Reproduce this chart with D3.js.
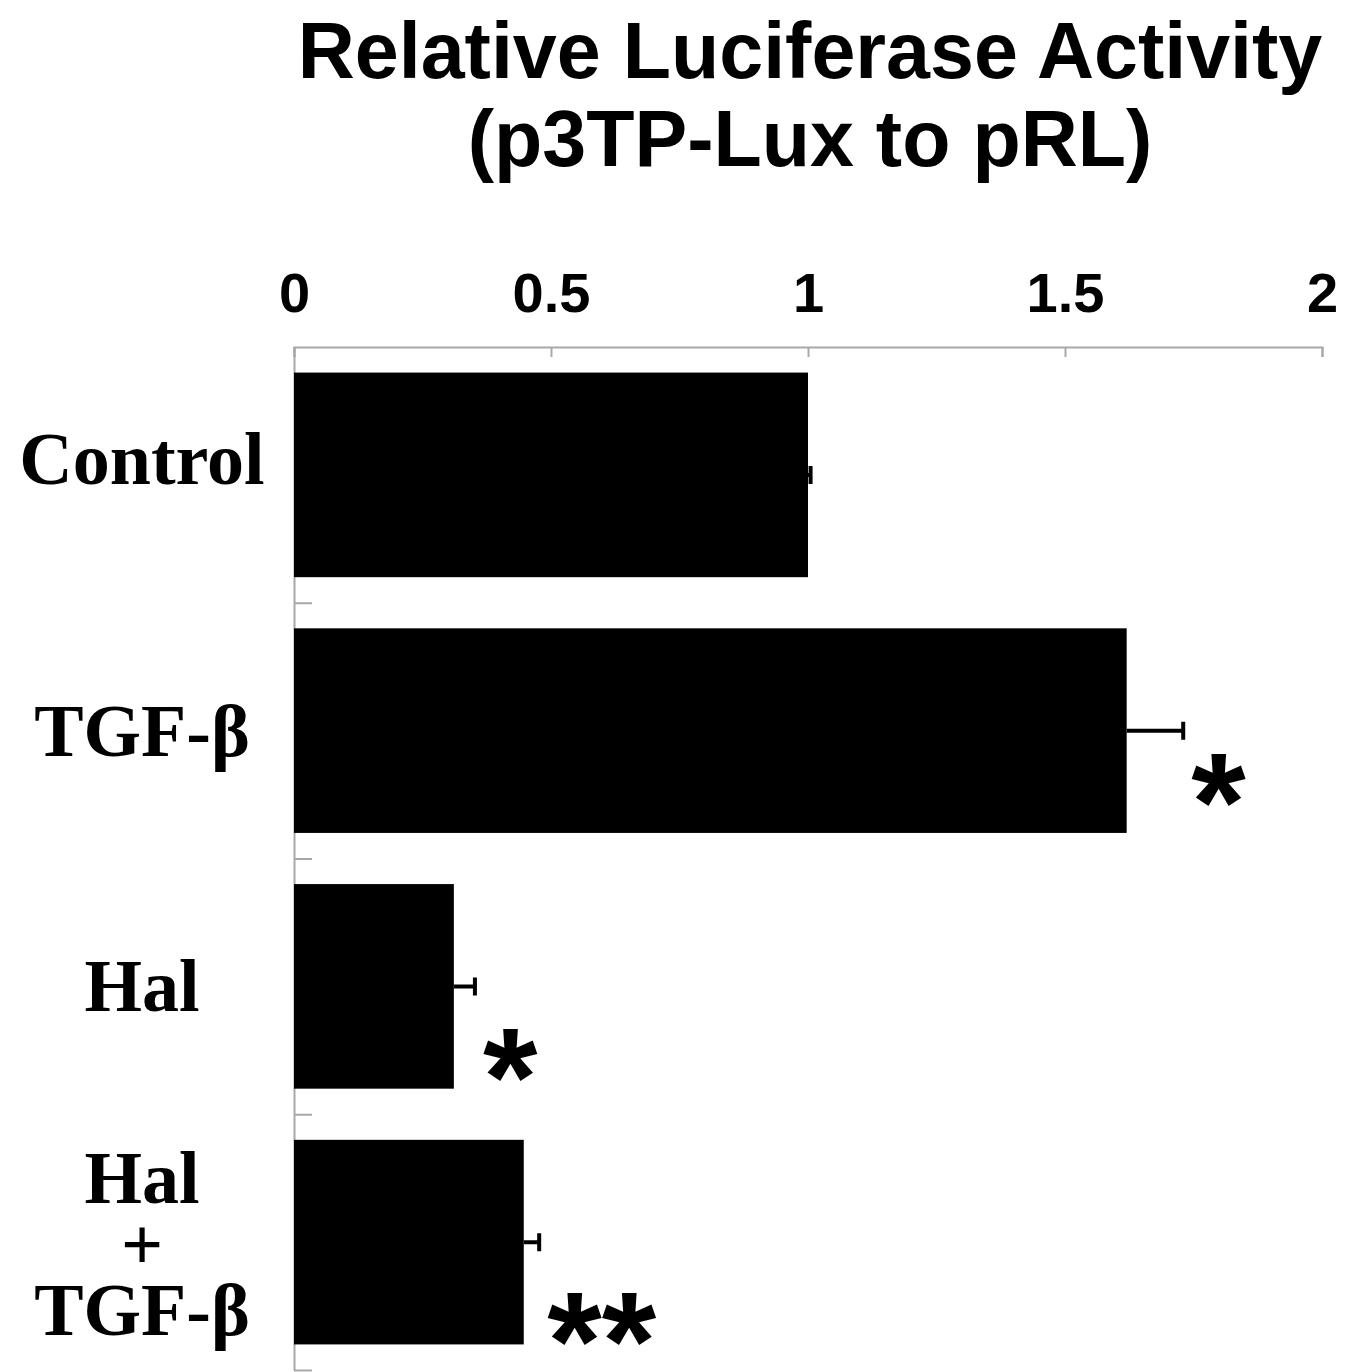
<!DOCTYPE html>
<html>
<head>
<meta charset="utf-8">
<script src="https://cdn.jsdelivr.net/npm/d3@7"></script>
<style>
	body { margin: 0; background: #fff; }
	.axis path, .axis line { stroke: #a8a8a8; stroke-width: 2; }
	.axis text { font-family: "Liberation Sans", Arial, sans-serif; font-weight: bold; font-size: 56px; fill: #000; }
	.cat { font-family: "Liberation Serif", "Times New Roman", serif; font-weight: bold; font-size: 74px; }
	.title { font-family: "Liberation Sans", Arial, sans-serif; font-weight: bold; font-size: 79px; }
	.star { font-family: "Liberation Sans", Arial, sans-serif; font-weight: bold; font-size: 140px; }
</style>
</head>
<body>
<svg></svg>
<script>
const categories = [["Control"], ["TGF-β"], ["Hal"], ["Hal", "+", "TGF-β"]];
const values = [1.0, 1.62, 0.311, 0.447];
const errors = [0.005, 0.11, 0.041, 0.03];
const marks = ["", "*", "*", "**"];
const xTicks = [0, 0.5, 1, 1.5, 2];
const titleLines = ["Relative Luciferase Activity", "(p3TP-Lux to pRL)"];

// small hand layout tweaks (pixels) for labels and significance marks
const labelShift = [-16, 0, 0, 0];
const starShift = [0, 25, 45, 53];

const svg = d3.select("svg");
svg.attr("width", 1356).attr("height", 1372);

const xScale = d3.scaleLinear().domain([0, 2]).range([294, 1322]);
const yScale = d3
	.scaleBand()
	.domain(d3.range(categories.length))
	.range([347, 1370])
	.paddingInner(0.2)
	.paddingOuter(0.1);
const edgeScale = d3.scaleLinear().domain([0, categories.length]).range([347, 1370]);

// title
svg
	.selectAll("text.title")
	.data(titleLines)
	.enter()
	.append("text")
	.attr("class", "title")
	.attr("x", 810)
	.attr("y", (_, i) => 78 + i * 88)
	.attr("text-anchor", "middle")
	.text((d) => d);

const xAxis = d3
	.axisTop(xScale)
	.tickValues(xTicks)
	.tickFormat((d) => d)
	.tickSizeInner(-10)
	.tickSizeOuter(-10)
	.tickPadding(35);
svg.append("g").attr("class", "axis").attr("transform", "translate(0, 347)").call(xAxis);

const yAxis = d3
	.axisLeft(edgeScale)
	.tickValues(d3.range(1, categories.length + 1))
	.tickFormat("")
	.tickSizeInner(-18)
	.tickSizeOuter(0);
svg.append("g").attr("class", "axis").attr("transform", "translate(294, 0)").call(yAxis);

const rows = svg
	.selectAll("g.row")
	.data(values)
	.enter()
	.append("g")
	.attr("class", "row");

rows
	.append("rect")
	.attr("x", xScale(0))
	.attr("y", (_, i) => yScale(i))
	.attr("width", (d) => xScale(d) - xScale(0))
	.attr("height", yScale.bandwidth())
	.attr("fill", "#000");

// error bars
rows
	.append("path")
	.attr("d", (d, i) => {
		const cy = yScale(i) + yScale.bandwidth() / 2;
		const x1 = xScale(d + errors[i]);
		return `M${xScale(d)},${cy}H${x1}M${x1},${cy - 9}V${cy + 9}`;
	})
	.attr("stroke", "#000")
	.attr("stroke-width", 4)
	.attr("fill", "none");

rows
	.append("text")
	.attr("class", "star")
	.attr("x", (d, i) => xScale(d + errors[i]) + 8)
	.attr("y", (_, i) => yScale(i) + yScale.bandwidth() / 2 + 94 + starShift[i])
	.text((_, i) => marks[i]);

// category labels
const labels = svg
	.selectAll("text.cat")
	.data(categories)
	.enter()
	.append("text")
	.attr("class", "cat")
	.attr("text-anchor", "middle")
	.attr("x", 140)
	.attr("y", (d, i) => yScale(i) + yScale.bandwidth() / 2 + 25 + labelShift[i] - (d.length > 1 ? 64 : 0));
labels
	.selectAll("tspan")
	.data((d) => d)
	.enter()
	.append("tspan")
	.attr("x", 142)
	.attr("dy", (_, j) => (j === 0 ? 0 : 66))
	.text((d) => d);
</script>
</body>
</html>
